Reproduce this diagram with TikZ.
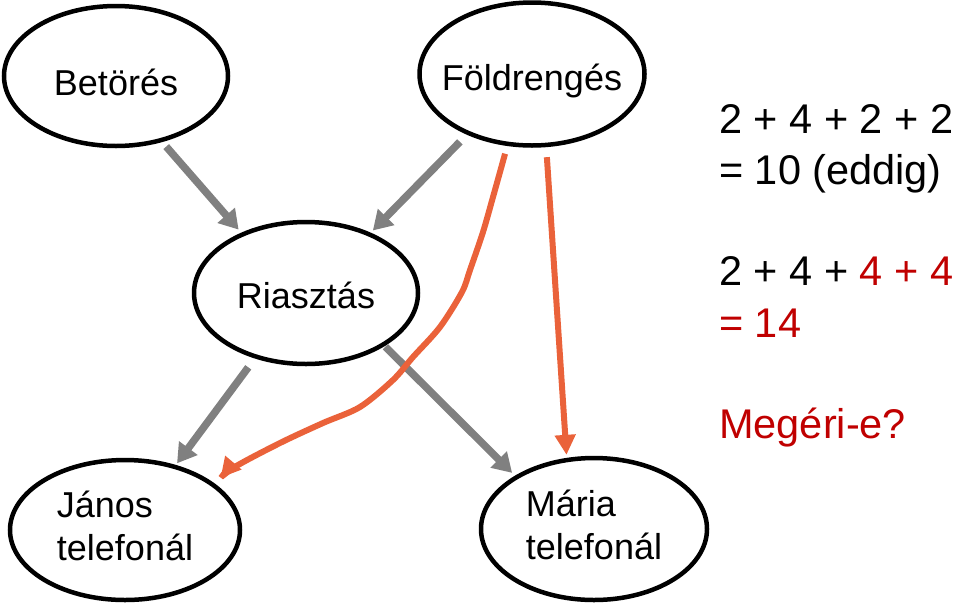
\documentclass[tikz,border=0pt]{standalone}
\usepackage{fontspec}
\setmainfont{Liberation Sans}
\usetikzlibrary{arrows.meta,shapes.geometric}
\definecolor{arrgray}{RGB}{128,128,128}
\definecolor{arrorange}{RGB}{234,98,58}
\definecolor{txtred}{RGB}{192,0,0}
\newcommand\nodeline[2]{\makebox[0pt]{\raisebox{#1}[0pt][0pt]{#2}}}
\begin{document}
\begin{tikzpicture}[x=1pt,y=-1pt,
  ell/.style={draw, line width=4.5pt, ellipse, inner sep=0pt, font=\fontsize{36}{43}\selectfont},
  grayarrow/.style={draw=arrgray, line width=7.5pt, -{Triangle[length=19pt,width=22pt]}},
  orangearrow/.style={draw=arrorange, line width=6pt, -{Triangle[length=20pt,width=20pt]}},
  rtext/.style={anchor=base west, inner sep=0pt, font=\fontsize{41.5}{49}\selectfont}]
\useasboundingbox (0,0) rectangle (960,606);

\node[ell, minimum width=224pt, minimum height=140pt] (B) at (116,76) {\nodeline{-19pt}{Betörés}};
\node[ell, minimum width=225pt, minimum height=143pt] (F) at (532,74) {\nodeline{-16pt}{Földrengés}};
\node[ell, minimum width=224pt, minimum height=142pt] (R) at (306,293) {\nodeline{-15pt}{Riasztás}};
\node[ell, minimum width=230pt, minimum height=140pt] (J) at (125,530) {\makebox[0pt]{\begin{tabular}{@{}l@{}}János\\telefonál\end{tabular}}};
\node[ell, minimum width=226pt, minimum height=142pt] (M) at (594,529) {\makebox[0pt]{\begin{tabular}{@{}l@{}}Mária\\telefonál\end{tabular}}};

\draw[grayarrow, shorten <=6pt, shorten >=4pt] (B.-55.4) -- (R.137.6);
\draw[grayarrow, shorten <=10pt, shorten >=3pt] (F.-137.8) -- (R.43.7);
\draw[grayarrow, shorten <=11pt, shorten >=2pt] (R.-128.1) -- (J.52.2);
\draw[grayarrow, shorten <=1pt, shorten >=4pt] (R.-34.4) -- (M.146.8);

\draw[orangearrow, shorten <=10pt, shorten >=3pt] (F.-79.1) -- (M.111.4);
\draw[orangearrow, shorten <=8pt, shorten >=8pt] plot[smooth, tension=0.5] coordinates {(F.-109.9) (493,197) (483,232) (470,270) (462,292) (440,327) (413,357) (393,380) (360,407) (323,423) (280,443) (233,468) (J.27)};

\node[rtext] (l1) at (719,133) {2 + 4 + 2 + 2};
\node[rtext] (l2) at (719,184) {= 10 (eddig)};
\node[rtext] (l3) at (719,285) {2 + 4 + \textcolor{txtred}{4 + 4}};
\node[rtext, text=txtred] (l4) at (719,337) {= 14};
\node[rtext, text=txtred] (l5) at (719,438) {Megéri-e?};
\end{tikzpicture}
\end{document}
